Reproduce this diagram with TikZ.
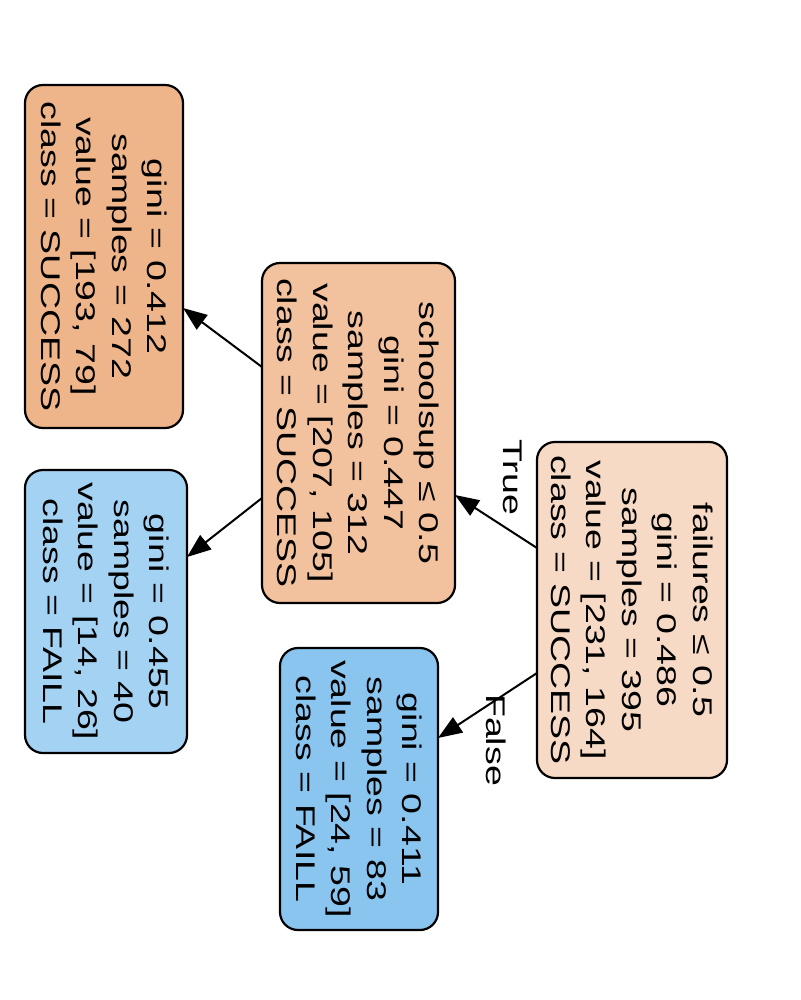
\documentclass[tikz,border=0pt]{standalone}
\usepackage{fontspec}
\setmainfont{Liberation Sans}
\usetikzlibrary{arrows.meta,calc}
\definecolor{cRoot}{RGB}{247,218,197}
\definecolor{cSchool}{RGB}{242,193,157}
\definecolor{cLeafA}{RGB}{239,181,138}
\definecolor{cLeafB}{RGB}{164,210,243}
\definecolor{cLeafC}{RGB}{138,197,240}
\begin{document}
\begin{tikzpicture}[x=0.5pt,y=-0.5pt,
  box/.style={draw=black,line width=1.1pt,rounded corners=9pt,inner sep=0pt,outer sep=0pt},
  txt/.style={rotate=-90,xscale=1.39,inner sep=0pt,align=center,font=\fontsize{13.5}{17.75}\selectfont},
  edge/.style={line width=1pt,-{Triangle[length=12pt,width=9pt]}}]
\useasboundingbox (0,0) rectangle (800,1000);
\fill[white] (0,0) rectangle (800,1000);
% boxes
\node[box,fill=cRoot,minimum width=95pt,minimum height=168pt] (root) at (632,610) {};
\node[box,fill=cSchool,minimum width=96.5pt,minimum height=170pt] (school) at (358.5,433) {};
\node[box,fill=cLeafA,minimum width=79pt,minimum height=171.5pt] (leafA) at (104,256.5) {};
\node[box,fill=cLeafB,minimum width=81pt,minimum height=141.5pt] (leafB) at (106,611.5) {};
\node[box,fill=cLeafC,minimum width=79pt,minimum height=141pt] (leafC) at (359,789) {};
% texts
\node[txt] (rootT) at (root.center) {failures ≤ 0.5\\gini = 0.486\\samples = 395\\value = [231, 164]\\class = SUCCESS};
\node[txt] (schoolT) at (school.center) {schoolsup ≤ 0.5\\gini = 0.447\\samples = 312\\value = [207, 105]\\class = SUCCESS};
\node[txt] (leafAT) at (leafA.center) {gini = 0.412\\samples = 272\\value = [193, 79]\\class = SUCCESS};
\node[txt] (leafBT) at (leafB.center) {gini = 0.455\\samples = 40\\value = [14, 26]\\class = FAILL};
\node[txt] (leafCT) at (leafC.center) {gini = 0.411\\samples = 83\\value = [24, 59]\\class = FAILL};
% edges
\draw[edge] ($(root.west)+(0,-62)$) -- ($(school.east)+(0,62)$);
\draw[edge] ($(root.west)+(0,63)$) -- ($(leafC.east)+(0,-51)$);
\draw[edge] ($(school.west)+(0,-66)$) -- ($(leafA.east)+(0,51.5)$);
\draw[edge] ($(school.west)+(0,65)$) -- ($(leafB.east)+(0,-54.5)$);
% edge labels
\node[txt] (trueL) at (513,477) {True};
\node[txt] (falseL) at (496,740) {False};
\end{tikzpicture}
\end{document}
